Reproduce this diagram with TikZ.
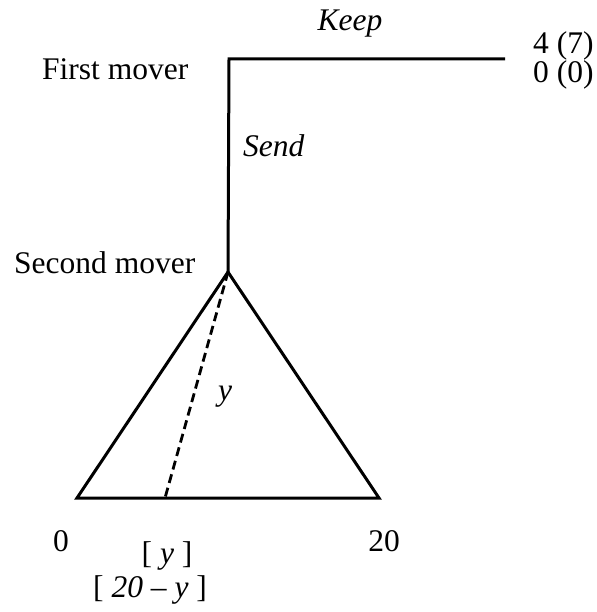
\documentclass[tikz,border=0pt]{standalone}
\usepackage{fontspec}
\setmainfont{Liberation Serif}
\begin{document}
\begin{tikzpicture}[x=1pt,y=-1pt,
  lbl/.style={inner sep=0pt,font=\fontsize{31.5}{37}\selectfont},
  edge/.style={line width=3pt,line join=miter},
  dashline/.style={line width=2.8pt,dash pattern=on 9pt off 5pt}]
\useasboundingbox (0,0) rectangle (596,612);
\coordinate (fm) at (229,59);
\coordinate (keepend) at (505,59);
\coordinate (sm) at (228,272);
\coordinate (L) at (77,498);
\coordinate (R) at (379,498);
\coordinate (yb) at (165,498);
\draw[edge] (keepend) -- (fm) -- (sm);
\draw[edge] (sm) -- (L) -- (R) -- cycle;
\draw[dashline] (sm) -- (yb);
\node[lbl,anchor=base] (keep) at (350,31) {\textit{Keep}};
\node[lbl,anchor=base west,align=left,font=\fontsize{31.5}{27.5}\selectfont] (pay) at (533,83) {4 (7)\\0 (0)};
\node[lbl,anchor=base west] (first) at (42,80) {First mover};
\node[lbl,anchor=base west] (send) at (243,157) {\textit{Send}};
\node[lbl,anchor=base west] (second) at (14,273) {Second mover};
\node[lbl,anchor=base] (ylab) at (225,400) {\textit{y}};
\node[lbl,anchor=base] (zero) at (61,551) {0};
\node[lbl,anchor=base] (twenty) at (384,551) {20};
\node[lbl,anchor=base] (py) at (167,563) {[ \textit{y} ]};
\node[lbl,anchor=base] (pz) at (150,597) {[ \textit{20 – y} ]};
\end{tikzpicture}
\end{document}
